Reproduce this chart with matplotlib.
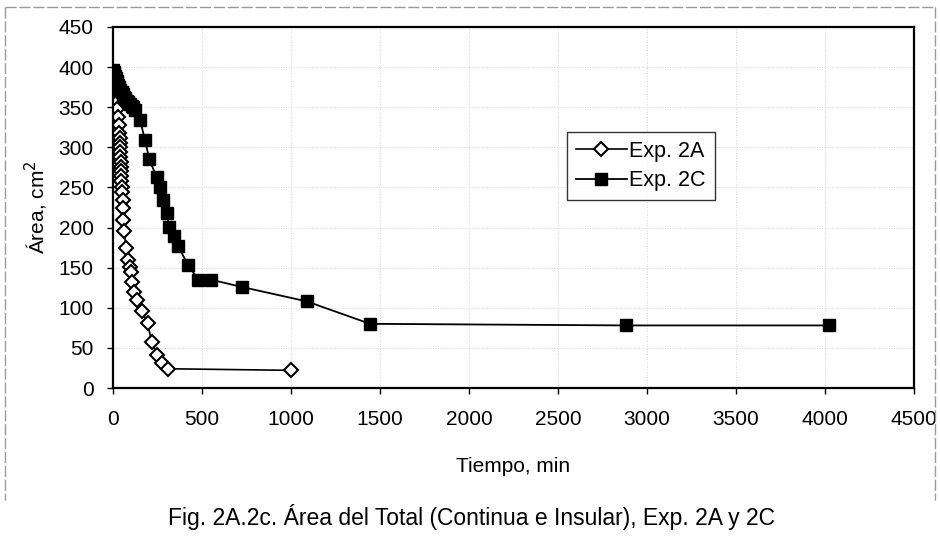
import matplotlib.pyplot as plt
from matplotlib.lines import Line2D

plt.rcParams['font.family'] = ['Liberation Sans', 'DejaVu Sans']

# Exp. 2A (diamonds)
t_2a = [0, 4, 8, 12, 16, 20, 24, 28, 32, 36, 38, 39, 40, 41, 42, 43, 44, 45, 46, 47,
        48, 50, 54, 55, 58, 62, 73, 86, 96, 99, 105, 118, 133, 161, 195, 217, 249, 273, 307, 1000]
area_2a = [395, 388, 380, 372, 364, 356, 348, 338, 328, 318, 312, 306, 300, 294, 288, 282, 276, 270, 264, 258,
           251, 244, 234, 224, 209, 196, 175, 160, 151, 145, 132, 120, 110, 96, 81, 57, 41, 31, 24, 22]

# Exp. 2C (squares)
t_2c = [0, 4, 8, 12, 16, 20, 25, 30, 36, 42, 48, 55, 62, 70, 78, 86, 95, 104, 114, 124,
        152, 180, 204, 245, 264, 279, 301, 317, 343, 365, 423, 479, 551, 723, 1088, 1444, 2880, 4020]
area_2c = [396, 394, 391, 389, 386, 383, 381, 378, 375, 372, 369, 366, 363, 361, 358, 356, 354, 352, 350, 347,
           334, 309, 285, 263, 251, 234, 218, 201, 190, 177, 153, 135, 135, 126, 108, 80, 78, 78]

x_ticks = [0, 500, 1000, 1500, 2000, 2500, 3000, 3500, 4000, 4500]
y_ticks = [0, 50, 100, 150, 200, 250, 300, 350, 400, 450]

fig = plt.figure(figsize=(9.4, 5.37), dpi=100)
ax = fig.add_axes([113 / 940, 1 - 388 / 537, 801 / 940, 361 / 537])

ax.plot(t_2a, area_2a, color='black', lw=1.2, marker='D', markersize=7,
        markerfacecolor='white', markeredgecolor='black', markeredgewidth=1.5, label='Exp. 2A')
ax.plot(t_2c, area_2c, color='black', lw=1.3, marker='s', markersize=8,
        markerfacecolor='black', markeredgecolor='black', label='Exp. 2C')

ax.set_xlim(0, 4500)
ax.set_ylim(0, 450)
ax.set_xticks(x_ticks)
ax.set_yticks(y_ticks)
ax.tick_params(direction='out', length=4, width=1, labelsize=15, pad=10)
ax.tick_params(axis='x', pad=12)
ax.grid(True, color='#d8d8d8', linestyle=':', linewidth=0.7)
for s in ax.spines.values():
    s.set_linewidth(1.6)

ax.set_xlabel('Tiempo, min', fontsize=15, labelpad=20)
ax.set_ylabel('Área, cm$^2$', fontsize=15, labelpad=6)

leg = ax.legend(loc='upper left', bbox_to_anchor=((567 - 113) / 801, (388 - 132) / 361),
                fontsize=15.5, frameon=True, fancybox=False, edgecolor='black',
                handlelength=2.4, handletextpad=0.1, borderpad=0.4, labelspacing=0.4,
                borderaxespad=0)
leg.get_frame().set_linewidth(1.0)

fig.text(472 / 940, 1 - 517 / 537, 'Fig. 2A.2c. Área del Total (Continua e Insular), Exp. 2A y 2C',
         ha='center', va='center', fontsize=16.5)

# chart area border
for xs, ys in [([5, 5], [7, 500]), ([5, 935], [7, 7]), ([935, 935], [7, 500])]:
    fig.add_artist(Line2D([x / 940 for x in xs], [1 - y / 537 for y in ys],
                          color='#999999', lw=1.0, linestyle=(0, (8, 2))))

fig.savefig('out.png', dpi=100, facecolor='white')
